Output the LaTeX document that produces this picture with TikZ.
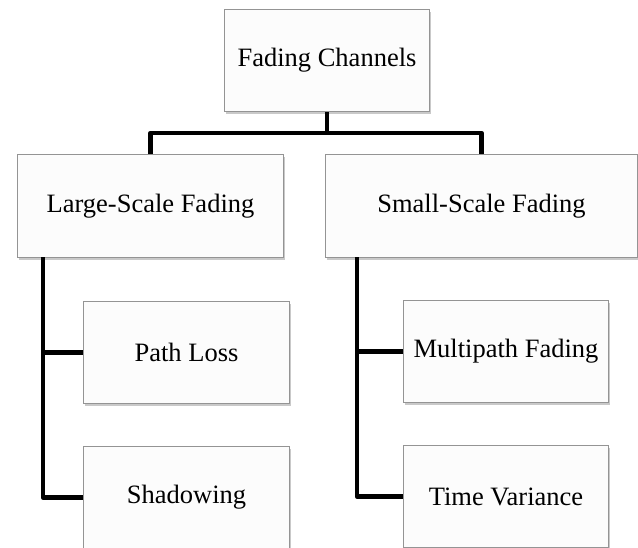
\documentclass[tikz,border=0pt]{standalone}
\usepackage{fontspec}
\setmainfont{Liberation Serif}
\usetikzlibrary{shadows}
\begin{document}
\begin{tikzpicture}[x=1pt,y=-1pt,
  box/.style={draw=black!42, line width=1pt, fill=white!99!black, anchor=north west,
    inner sep=0pt, font=\fontsize{26.5}{30}\selectfont,
    drop shadow={shadow xshift=1pt, shadow yshift=-2.5pt, opacity=0.35, fill=black!60}},
  conn/.style={line width=4.4pt, line join=round, line cap=butt}]
\clip (0,0) rectangle (638,547);
\fill[white] (0,0) rectangle (638,547);
\node[box, minimum width=205pt, minimum height=102pt] (top) at (224,9) {Fading Channels};
\node[box, minimum width=266pt, minimum height=103pt] (large) at (17,154) {Large-Scale Fading};
\node[box, minimum width=312pt, minimum height=103pt] (small) at (325,154) {Small-Scale Fading};
\node[box, minimum width=206pt, minimum height=102pt] (path) at (83,301) {Path Loss};
\node[box, minimum width=206pt, minimum height=102pt] (shadow) at (83,446) {Shadowing};
\node[box, minimum width=205pt, minimum height=102pt] (multi) at (403,300) {Multipath Fading};
\node[box, minimum width=205pt, minimum height=102pt] (time) at (403,445) {Time Variance};
\coordinate (bus) at (327,133);
\coordinate (ld) at (43,257);
\coordinate (rd) at (357,257);
\draw[conn] (top.south -| bus) -- (bus);
\draw[conn] (large.north) |- (bus) -| (small.north);
\draw[conn] (ld) |- (shadow.west);
\draw[conn] (ld |- path.west) -- (path.west);
\draw[conn] (rd) |- (time.west);
\draw[conn] (rd |- multi.west) -- (multi.west);
\end{tikzpicture}
\end{document}
